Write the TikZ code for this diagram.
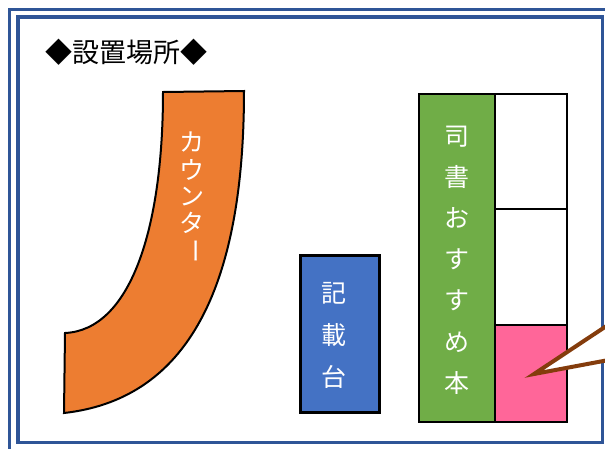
\documentclass[tikz,border=0pt]{standalone}
\usepackage{fontspec}
\setmainfont{Noto Sans CJK JP}
\definecolor{frameblue}{HTML}{2F5597}
\definecolor{cntorange}{HTML}{ED7D31}
\definecolor{deskblue}{HTML}{4472C4}
\definecolor{shelfgreen}{HTML}{70AD47}
\definecolor{shelfpink}{HTML}{FF6699}
\definecolor{callbrown}{HTML}{843C0C}
\tikzset{
  framebox/.style={draw=frameblue, line width=3.5pt},
  shelfbox/.style={draw=black, line width=2.5pt},
  wtext/.style={text=white, inner sep=0pt, align=center},
  cnt/.style={wtext, font=\fontsize{25}{25}\selectfont},
  callout/.style={draw=callbrown, fill=white, line width=4pt, line join=miter},
}
\begin{document}
\begin{tikzpicture}[x=1pt,y=-1pt]
\useasboundingbox (0,0) rectangle (605,448);
\fill[white] (0,0) rectangle (605,448);
% frame
\draw[framebox] (9.5,9.5) rectangle (625,465);
\draw[framebox] (18,17) rectangle (602.5,442.5);
% title
\node[anchor=west, inner sep=0pt, font=\fontsize{27}{27}\selectfont] (title) at (45,52) {◆設置場所◆};
% counter
\draw[fill=cntorange, draw=black, line width=2pt] (163,92) -- (244,91)
  .. controls (244,300) and (180,400) .. (64,413) -- (65,333)
  .. controls (130,330) and (163,230) .. (163,92) -- cycle;
\node[cnt] (c1) at (192,142) {カ};
\node[cnt] (c2) at (192,170) {ウ};
\node[cnt] (c3) at (192,197) {ン};
\node[cnt] (c4) at (192,223) {タ};
\node[cnt, rotate=-90] (c5) at (192,251) {ー};
% desk
\draw[shelfbox, fill=deskblue, line width=3pt] (300,255) rectangle (379,412);
\node[wtext, font=\fontsize{25}{42}\selectfont] (desk) at (334,335) {記\\載\\台};
% shelf
\draw[shelfbox, fill=shelfgreen] (419,94) rectangle (495,422);
\draw[shelfbox, fill=white] (495,94) rectangle (567,209);
\draw[shelfbox, fill=white] (495,209) rectangle (567,325);
\draw[shelfbox, fill=shelfpink] (495,325) rectangle (567,422);
\node[wtext, font=\fontsize{25}{41.2}\selectfont] (shelf) at (457,260) {司\\書\\お\\す\\す\\め\\本};
% callout pointer
\coordinate (tip) at (534,374);
\coordinate (cu) at (614,321);
\coordinate (cl) at (614,359);
\draw[callout] (cu) -- (tip) -- (cl);
\end{tikzpicture}
\end{document}
